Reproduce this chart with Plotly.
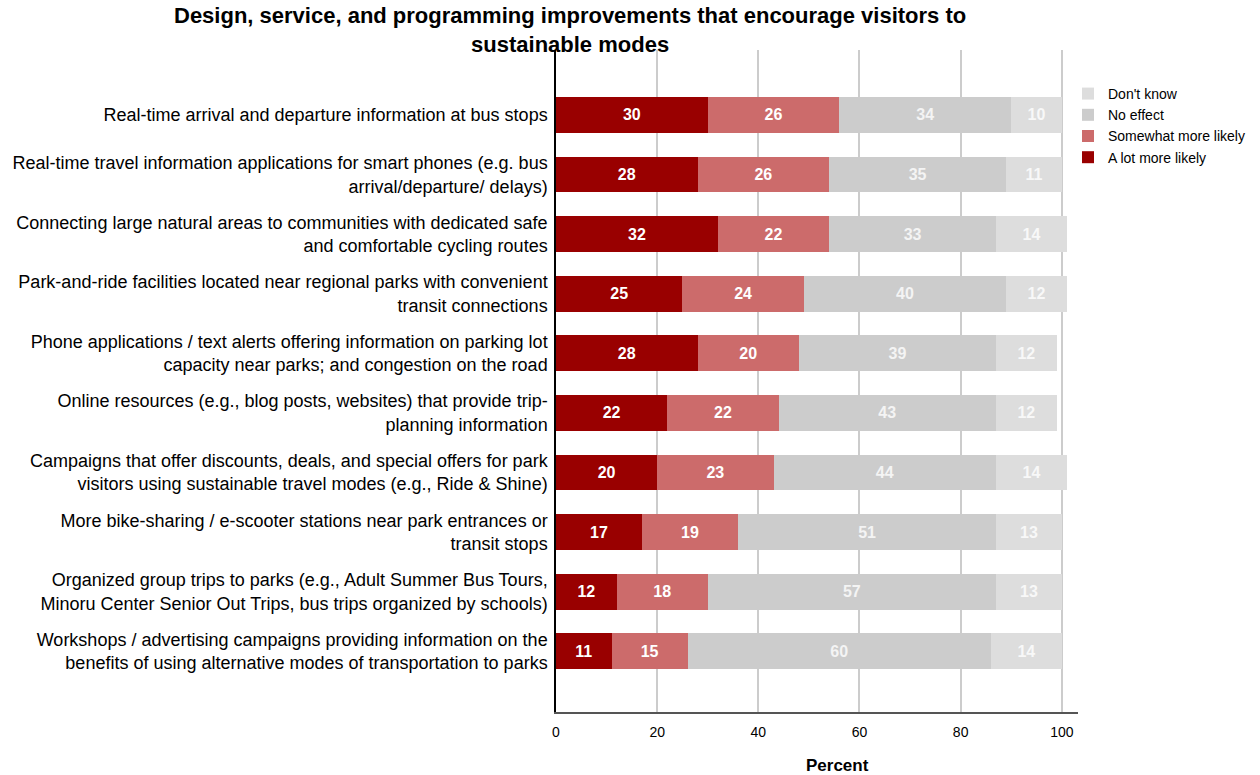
import plotly.graph_objects as go

categories = [
    "Real-time arrival and departure information at bus stops",
    "Real-time travel information applications for smart phones (e.g. bus<br>arrival/departure/ delays)",
    "Connecting large natural areas to communities with dedicated safe<br>and comfortable cycling routes",
    "Park-and-ride facilities located near regional parks with convenient<br>transit connections",
    "Phone applications / text alerts offering information on parking lot<br>capacity near parks; and congestion on the road",
    "Online resources (e.g., blog posts, websites) that provide trip-<br>planning information",
    "Campaigns that offer discounts, deals, and special offers for park<br>visitors using sustainable travel modes (e.g., Ride & Shine)",
    "More bike-sharing / e-scooter stations near park entrances or<br>transit stops",
    "Organized group trips to parks (e.g., Adult Summer Bus Tours,<br>Minoru Center Senior Out Trips, bus trips organized by schools)",
    "Workshops / advertising campaigns providing information on the<br>benefits of using alternative modes of transportation to parks",
]

a_lot_more_likely = [30, 28, 32, 25, 28, 22, 20, 17, 12, 11]
somewhat_more_likely = [26, 26, 22, 24, 20, 22, 23, 19, 18, 15]
no_effect = [34, 35, 33, 40, 39, 43, 44, 51, 57, 60]
dont_know = [10, 11, 14, 12, 12, 12, 14, 13, 13, 14]

x_ticks = [0, 20, 40, 60, 80, 100]

FONT = "Liberation Sans, Arial, sans-serif"

series = [
    ("A lot more likely", a_lot_more_likely, "#990000", "#ffffff"),
    ("Somewhat more likely", somewhat_more_likely, "#cc6b6b", "#ffffff"),
    ("No effect", no_effect, "#cccccc", "#f4f4f4"),
    ("Don't know", dont_know, "#dddddd", "#f8f8f8"),
]

fig = go.Figure()
for name, vals, color, tcolor in series:
    fig.add_trace(go.Bar(
        name=name,
        y=categories,
        x=vals,
        orientation="h",
        width=0.6,
        marker=dict(color=color, line=dict(width=0)),
        text=[str(v) for v in vals],
        textposition="inside",
        insidetextanchor="middle",
        textangle=0,
        textfont=dict(family=FONT, size=16, color=tcolor, weight="bold"),
        constraintext="none",
    ))

fig.update_layout(
    barmode="stack",
    width=1260,
    height=775,
    paper_bgcolor="white",
    plot_bgcolor="white",
    margin=dict(l=556, r=182, t=50, b=63, autoexpand=False),
    font=dict(family=FONT, color="#000000"),
    legend=dict(
        xref="container", yref="container",
        x=1068 / 1260, xanchor="left",
        y=1 - 78 / 775, yanchor="top",
        traceorder="reversed",
        font=dict(family=FONT, size=14, color="#000000"),
        itemwidth=30,
        tracegroupgap=0,
        bgcolor="rgba(0,0,0,0)",
    ),
    showlegend=True,
)

fig.update_xaxes(
    range=[0, 103.2],
    tickvals=x_ticks,
    ticktext=[str(t) for t in x_ticks],
    showgrid=True,
    gridcolor="#cccccc",
    gridwidth=1.5,
    zeroline=False,
    showline=True,
    linecolor="#555555",
    linewidth=1.5,
    ticks="",
    tickfont=dict(family=FONT, size=14, color="#000000"),
    ticklabelstandoff=6,
)

fig.update_yaxes(
    categoryorder="array",
    categoryarray=categories,
    range=[10.02, -1.09],
    showgrid=False,
    zeroline=False,
    showline=True,
    linecolor="#000000",
    linewidth=1.5,
    ticks="",
    tickfont=dict(family=FONT, size=18, color="#000000"),
    ticklabelstandoff=3,
)

# Chart title, centred over the label column and bars
fig.add_annotation(
    text="<b>Design, service, and programming improvements that encourage visitors to<br>sustainable modes</b>",
    xref="paper", yref="paper",
    x=(570 - 556) / 522, y=(712 - 30) / 662,
    xanchor="center", yanchor="middle",
    align="center",
    showarrow=False,
    font=dict(family=FONT, size=22, color="#000000"),
)

# x-axis title
fig.add_annotation(
    text="<b>Percent</b>",
    xref="paper", yref="paper",
    x=(837 - 556) / 522, y=-(765 - 712) / 662,
    xanchor="center", yanchor="middle",
    showarrow=False,
    font=dict(family=FONT, size=17, color="#000000"),
)

fig.write_html("out.html")
